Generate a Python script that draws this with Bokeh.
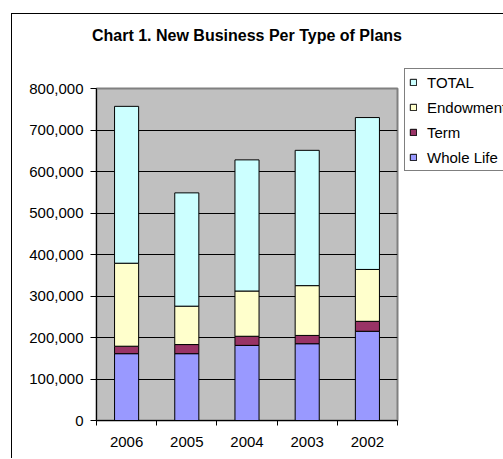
from bokeh.plotting import figure
from bokeh.layouts import row
from bokeh.models import (FixedTicker, NumeralTickFormatter, Legend, LegendItem,
                          ColumnDataSource, Title)
from bokeh.embed import file_html
from bokeh.resources import INLINE

years = ["2006", "2005", "2004", "2003", "2002"]
whole_life = [161000, 161000, 181000, 185000, 215000]
term = [18000, 22000, 22000, 20000, 24000]
endowment = [200000, 92500, 109000, 120000, 125000]
total = [378000, 273000, 316000, 326000, 366000]
y_ticks = [0, 100000, 200000, 300000, 400000, 500000, 600000, 700000, 800000]

series = ["Whole Life", "Term", "Endowment", "TOTAL"]
colors = ["#9999FF", "#993366", "#FFFFCC", "#CCFFFF"]

xpos = [i + 0.5 for i in range(len(years))]
source = ColumnDataSource(dict(x=xpos, **{"Whole Life": whole_life, "Term": term,
                                          "Endowment": endowment, "TOTAL": total}))

FONT = "Liberation Sans"

p = figure(width=392, height=444, x_range=(0, len(years)), y_range=(0, 800000),
           output_backend="svg", toolbar_location=None,
           min_border_left=84, min_border_right=7, min_border_top=74, min_border_bottom=38,
           background_fill_color="#C0C0C0", border_fill_color="white",
           outline_line_color="#808080", outline_line_width=2)
p.frame_align = False

p.title = Title(text="Chart 1. New Business Per Type of Plans", align="center",
                text_font=FONT, text_font_size="16px", text_font_style="bold",
                text_color="black", offset=15)
# blank spacer between the title and the plot area
p.add_layout(Title(text=" ", text_font_size="20px", standoff=16), "above")

rs = p.vbar_stack(series, x="x", width=0.4, source=source, fill_color=colors,
                  line_color="black", line_width=1)

# axes
p.xaxis.ticker = FixedTicker(ticks=xpos, minor_ticks=list(range(len(years) + 1)))
p.xaxis.major_label_overrides = {x: y for x, y in zip(xpos, years)}
p.xaxis.major_tick_line_color = None
p.xaxis.minor_tick_in = 0
p.xaxis.minor_tick_out = 5
p.xaxis.minor_tick_line_color = "black"
p.xaxis.axis_line_color = "black"
p.xaxis.major_label_standoff = 10
p.xaxis.major_label_text_font = FONT
p.xaxis.major_label_text_font_size = "15px"
p.xaxis.major_label_text_color = "black"

p.yaxis.ticker = FixedTicker(ticks=y_ticks)
p.yaxis.formatter = NumeralTickFormatter(format="0,0")
p.yaxis.major_tick_in = 0
p.yaxis.major_tick_out = 6
p.yaxis.minor_tick_line_color = None
p.yaxis.major_tick_line_color = "black"
p.yaxis.axis_line_color = "black"
p.yaxis.major_label_standoff = 7
p.yaxis.major_label_text_font = FONT
p.yaxis.major_label_text_font_size = "15px"
p.yaxis.major_label_text_color = "black"

p.xgrid.grid_line_color = None
p.ygrid.ticker = FixedTicker(ticks=y_ticks[1:-1])
p.ygrid.grid_line_color = "black"
p.ygrid.grid_line_width = 1

# legend panel: a narrow figure beside the chart whose frame holds the legend
lp = figure(width=99, height=444, x_range=(-2, -1), y_range=(0, 1),
            output_backend="svg", toolbar_location=None,
            min_border_left=0, min_border_right=0, min_border_top=54,
            min_border_bottom=0, outline_line_color=None,
            background_fill_color="white", border_fill_color="white")
lp.frame_align = False
lp.axis.visible = False
lp.grid.visible = False
# same series, drawn outside this panel's range so only their legend swatches show
lrs = [lp.vbar(x="x", top=s, width=0.4, source=source, fill_color=c, line_color="black")
       for s, c in zip(series, colors)]

items = [LegendItem(label=s, renderers=[r]) for s, r in zip(series, lrs)][::-1]
legend = Legend(items=items, location="top_left", padding=4, margin=0,
                spacing=7, label_height=18, glyph_height=8, glyph_width=8,
                label_standoff=10, border_line_color="black", border_line_width=1,
                background_fill_color="white", background_fill_alpha=1,
                label_text_font=FONT, label_text_font_size="15px",
                label_text_color="black")
lp.add_layout(legend, "center")

layout = row(p, lp, styles={"border-left": "1px solid black",
                            "border-top": "1px solid black",
                            "margin-left": "11px", "margin-top": "13px"})

open("out.html", "w").write(file_html(layout, INLINE))
